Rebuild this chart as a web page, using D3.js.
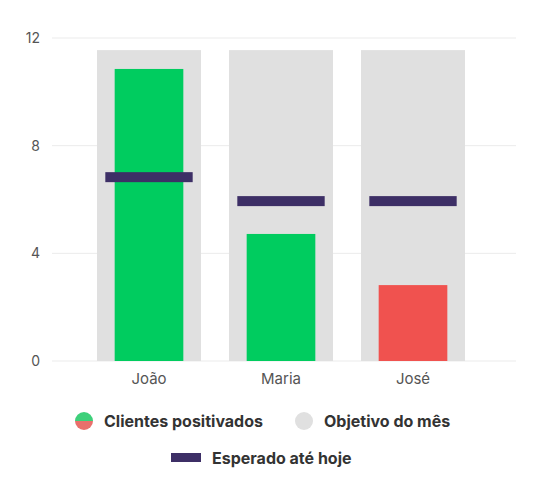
<!DOCTYPE html>
<html><head><meta charset="utf-8">
<script src="https://cdn.jsdelivr.net/npm/d3@7"></script>
<style>body{margin:0;background:#fff;font-family:Inter,sans-serif}</style>
</head><body>
<svg id="chart" width="540" height="480"></svg>
<script>
const names = ['João', 'Maria', 'José']
const positivados = [10.85, 4.72, 2.82]
const objetivo = [11.55, 11.55, 11.55]
const esperado = [6.83, 5.94, 5.94]
const yTicks = [0, 4, 8, 12]

const svg = d3.select('#chart')
const y = d3.scaleLinear().domain([0, 12]).range([361, 38])
const x = d3.scaleBand().domain(names).range([83, 479]).paddingInner(0.212).paddingOuter(0.106)

// grid
svg.append('g').selectAll('line').data(yTicks).join('line')
    .attr('x1', 52).attr('x2', 516)
    .attr('y1', d => y(d)).attr('y2', d => y(d))
    .attr('stroke', '#ebebeb')
svg.append('g').selectAll('text').data(yTicks).join('text')
    .attr('x', 40).attr('y', d => y(d)).attr('dy', '0.35em')
    .attr('text-anchor', 'end').attr('fill', '#555').attr('font-size', 14)
    .text(d => d)

let g = svg.append('g')
g.selectAll('.obj').data(names).join('rect')
    .attr('x', d => x(d)).attr('width', x.bandwidth())
    .attr('y', (d, i) => y(objetivo[i])).attr('height', (d, i) => y(0) - y(objetivo[i]))
    .attr('fill', '#e0e0e0')

let innerW = x.bandwidth() * 0.66
g.selectAll('.pos').data(names).join('rect')
    .attr('x', d => x(d) + (x.bandwidth() - innerW) / 2).attr('width', innerW)
    .attr('y', (d, i) => y(positivados[i])).attr('height', (d, i) => y(0) - y(positivados[i]))
    .attr('fill', (d, i) => positivados[i] >= esperado[i] * 0.6 && i < 2 ? '#00cc5f' : '#f0524f')

let expW = x.bandwidth() * 0.84
g.selectAll('.exp').data(names).join('rect')
    .attr('x', d => x(d) + (x.bandwidth() - expW) / 2).attr('width', expW)
    .attr('y', (d, i) => y(esperado[i]) - 5).attr('height', 10)
    .attr('fill', '#3d2f66')

svg.append('g').selectAll('text').data(names).join('text')
    .attr('x', d => x(d) + x.bandwidth() / 2).attr('y', 384)
    .attr('text-anchor', 'middle').attr('fill', '#555').attr('font-size', 15)
    .text(d => d)

// legend
let leg = svg.append('g').attr('font-size', 16).attr('font-weight', 700).attr('fill', '#333')
let defs = svg.append('defs')
let lg = defs.append('linearGradient').attr('id', 'half').attr('x1', 0).attr('x2', 0).attr('y1', 0).attr('y2', 1)
lg.append('stop').attr('offset', '50%').attr('stop-color', '#3dd07a')
lg.append('stop').attr('offset', '50%').attr('stop-color', '#e9706c')
leg.append('circle').attr('cx', 84).attr('cy', 421).attr('r', 9).attr('fill', 'url(#half)')
leg.append('text').attr('x', 104).attr('y', 421).attr('dy', '0.35em').text('Clientes positivados')
leg.append('circle').attr('cx', 304).attr('cy', 421).attr('r', 9).attr('fill', '#e0e0e0')
leg.append('text').attr('x', 324).attr('y', 421).attr('dy', '0.35em').text('Objetivo do mês')
leg.append('rect').attr('x', 171).attr('y', 453).attr('width', 30).attr('height', 9).attr('fill', '#3d2f66')
leg.append('text').attr('x', 212).attr('y', 458).attr('dy', '0.35em').text('Esperado até hoje')
</script>
</body></html>
